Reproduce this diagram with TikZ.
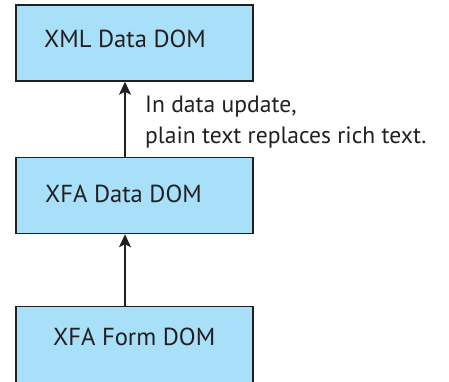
\documentclass[tikz,border=0pt]{standalone}
\usepackage{fontspec}
\setmainfont{PT Sans}
\usetikzlibrary{arrows.meta}
\definecolor{domfill}{HTML}{A9E0F9}
\definecolor{domline}{HTML}{231F20}

\begin{document}
\begin{tikzpicture}[x=1pt, y=-1pt, >={Stealth[length=13pt, width=12pt, inset=3pt]},
    dombox/.style={draw=domline, line width=1.5pt, fill=domfill, minimum width=237pt,
      minimum height=76pt, inner sep=0pt},
    domtext/.style={text=domline, font=\fontsize{24.6}{31}\selectfont, inner sep=0pt, anchor=base west}]
  \useasboundingbox (0,0) rectangle (449,381);
  % Three DOM boxes, one above the other
  \foreach \name/\y in {xml/43, data/195.5, form/344.5}{
    \node[dombox] (\name) at (134.5,\y) {};
  }
  % Box titles
  \node[domtext] (xmltext) at (44,47) {XML Data DOM};
  \node[domtext] (datatext) at (45,202) {XFA Data DOM};
  \node[domtext] (formtext) at (53,345) {XFA Form DOM};
  % Arrows run up a common vertical line
  \coordinate (axis) at (125,0);
  \draw[->, line width=1.6pt, domline] (data.north -| axis) -- (xml.south -| axis);
  \draw[->, line width=1.6pt, domline] (form.north -| axis) -- (data.south -| axis);
  % Note beside the upper arrow (base sits on its last line)
  \node[domtext, font=\fontsize{23.6}{31}\selectfont, align=left] (note) at (145,143)
    {In data update,\\plain text replaces rich text.};
\end{tikzpicture}
\end{document}
